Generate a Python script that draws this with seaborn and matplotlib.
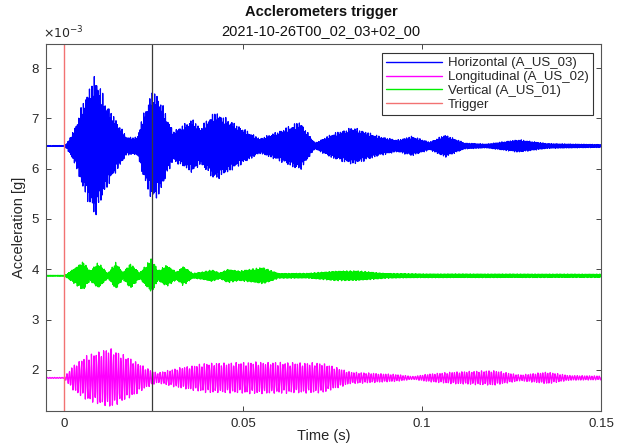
import numpy as np
import pandas as pd
import matplotlib
matplotlib.use("Agg")
import matplotlib.pyplot as plt
import matplotlib.ticker as mticker
import seaborn as sns

# Sampling of the accelerometer records (s)
fs = 20000.0
t_start, t_end = -0.005, 0.15

# Signal offsets (g)
offset_h = 6.45e-3
offset_l = 1.84e-3
offset_v = 3.87e-3

# Envelope knots: time (s) and half-amplitude (1e-3 g)
env_h_t = [-0.005, 0.0, 0.0008, 0.003, 0.0054, 0.0087, 0.012, 0.0148, 0.0176, 0.0205,
           0.022, 0.0248, 0.027, 0.0287, 0.0305, 0.036, 0.038, 0.0422, 0.049, 0.0547,
           0.060, 0.0659, 0.0701, 0.075, 0.0807, 0.088, 0.093, 0.0972, 0.1022, 0.1064,
           0.112, 0.118, 0.127, 0.135, 0.15]
env_h_a = [0.01, 0.01, 0.05, 0.35, 0.9, 1.45, 0.85, 0.5, 0.18, 0.18,
           0.6, 1.15, 0.95, 0.6, 0.3, 0.55, 0.37, 0.7, 0.4, 0.15,
           0.3, 0.5, 0.06, 0.25, 0.38, 0.2, 0.12, 0.2, 0.08, 0.23,
           0.06, 0.04, 0.13, 0.05, 0.03]

env_v_t = [-0.005, 0.0, 0.0007, 0.0054, 0.0073, 0.0096, 0.0123, 0.0145, 0.0165, 0.0186,
           0.0212, 0.0245, 0.0263, 0.0287, 0.0315, 0.0333, 0.036, 0.0389, 0.0413, 0.0436,
           0.0458, 0.049, 0.0556, 0.060, 0.068, 0.076, 0.082, 0.090, 0.10, 0.15]
env_v_a = [0.01, 0.01, 0.03, 0.3, 0.1, 0.27, 0.05, 0.28, 0.07, 0.26,
           0.06, 0.36, 0.1, 0.22, 0.08, 0.2, 0.05, 0.08, 0.12, 0.06,
           0.14, 0.1, 0.17, 0.05, 0.05, 0.1, 0.1, 0.05, 0.04, 0.035]

env_l_t = [-0.005, 0.0, 0.0005, 0.0026, 0.0063, 0.0128, 0.0193, 0.023, 0.026, 0.032,
           0.04, 0.045, 0.0528, 0.0723, 0.0799, 0.093, 0.0975, 0.102, 0.1087, 0.12,
           0.1274, 0.135, 0.141, 0.15]
env_l_a = [0.01, 0.01, 0.05, 0.25, 0.45, 0.6, 0.37, 0.2, 0.1, 0.2,
           0.3, 0.3, 0.32, 0.3, 0.12, 0.07, 0.03, 0.08, 0.12, 0.15,
           0.06, 0.12, 0.05, 0.04]

# Main and secondary vibration frequencies of each channel (Hz)
freq_h = (2970.0, 4630.0)
freq_v = (3130.0, 5270.0)
freq_l = (1460.0, 3810.0)
secondary_share = 0.12

trigger_time = 0.0
marker_time = 0.0246

series_names = ["Horizontal (A_US_03)", "Longitudinal (A_US_02)", "Vertical (A_US_01)"]
series_colors = ["#0000ff", "#ff00ff", "#00ee00"]

t = np.arange(t_start, t_end + 1 / fs, 1 / fs)


def channel(offset, knots_t, knots_a, freqs):
    env = np.interp(t, knots_t, knots_a) * 1e-3
    wave = ((1 - secondary_share) * np.sin(2 * np.pi * freqs[0] * t)
            + secondary_share * np.sin(2 * np.pi * freqs[1] * t))
    return offset + env * wave


frames = []
for name, off, kt, ka, fr in [
    (series_names[0], offset_h, env_h_t, env_h_a, freq_h),
    (series_names[1], offset_l, env_l_t, env_l_a, freq_l),
    (series_names[2], offset_v, env_v_t, env_v_a, freq_v),
]:
    frames.append(pd.DataFrame({"Time (s)": t, "Acceleration": channel(off, kt, ka, fr), "Sensor": name}))
data = pd.concat(frames, ignore_index=True)

sns.set_theme(style="ticks")
plt.rcParams["font.family"] = ["Liberation Sans", "DejaVu Sans"]
axis_grey = "#262626"

fig = plt.figure(figsize=(6.21, 4.43), dpi=100)
ax = fig.add_axes([0.074, 0.072, 0.894, 0.829])

sns.lineplot(data=data, x="Time (s)", y="Acceleration", hue="Sensor",
             hue_order=series_names, palette=series_colors, estimator=None,
             sort=False, linewidth=0.9, ax=ax)
ax.axvline(trigger_time, color="#f27272", linewidth=1.0, label="Trigger")
ax.axvline(marker_time, color="#3a3a3a", linewidth=0.9)

ax.set_xlim(t_start, t_end)
ax.set_ylim(1.18e-3, 8.48e-3)
ax.set_xticks([0, 0.05, 0.1, 0.15])
ax.xaxis.set_major_formatter(mticker.FuncFormatter(lambda v, p: "0" if v == 0 else f"{v:g}"))
ax.set_yticks(np.arange(2, 9) * 1e-3)
ax.yaxis.set_major_formatter(mticker.FuncFormatter(lambda v, p: f"{v * 1e3:.0f}"))
ax.text(-0.005, 1.008, r"$\times10^{-3}$", transform=ax.transAxes, fontsize=9,
        color=axis_grey, ha="left", va="bottom")

ax.tick_params(direction="in", top=True, right=True, length=3.5, width=0.6,
               labelsize=9.5, colors=axis_grey, pad=5)
for s in ax.spines.values():
    s.set_color("#555555")
    s.set_linewidth(0.8)

ax.set_xlabel("Time (s)", fontsize=10.5, color=axis_grey, labelpad=-1)
ax.set_ylabel("Acceleration [g]", fontsize=10.5, color=axis_grey, labelpad=4)

fig.text(0.517, 0.972, "Acclerometers trigger", ha="center", va="center",
         fontsize=10.5, fontweight="bold", color="#111111")
fig.text(0.517, 0.93, "2021-10-26T00_02_03+02_00", ha="center", va="center",
         fontsize=10.5, color="#111111")

handles, labels = ax.get_legend_handles_labels()
leg = ax.legend(handles, labels, loc="upper right", bbox_to_anchor=(0.99, 0.982),
                fontsize=9.5, frameon=True, fancybox=False, framealpha=1,
                edgecolor="#333333", handlelength=4.2, handletextpad=0.5,
                labelspacing=0.12, borderpad=0.3, borderaxespad=0.2)
leg.get_frame().set_linewidth(0.8)
for line in leg.get_lines():
    line.set_linewidth(1.0)
for txt in leg.get_texts():
    txt.set_color(axis_grey)

fig.savefig("out.png", dpi=100)
